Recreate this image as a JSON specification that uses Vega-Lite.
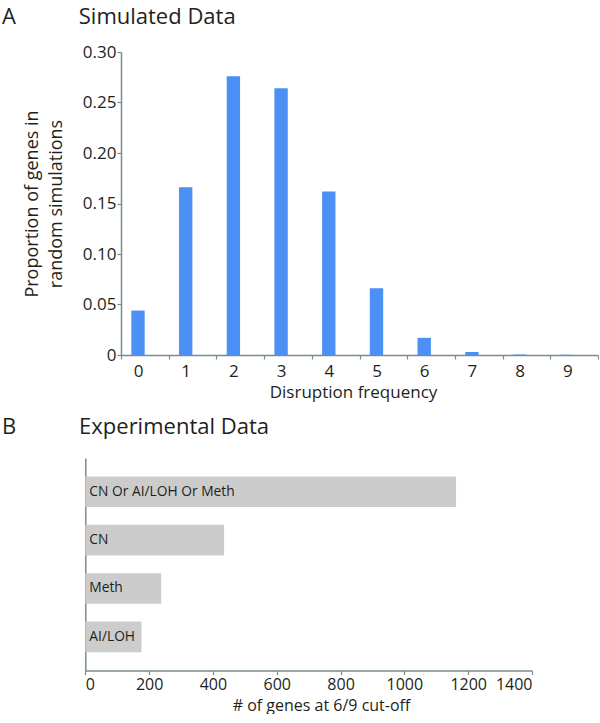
{
  "$schema": "https://vega.github.io/schema/vega-lite/v6.json",
  "padding": {"left": 2, "top": 6, "right": 0, "bottom": 0},
  "spacing": 16,
  "config": {
    "view": {"stroke": null},
    "font": "Open Sans",
    "axis": {
      "domainColor": "#7a8b8b",
      "tickColor": "#7a8b8b",
      "domainWidth": 1.5,
      "tickWidth": 1.2,
      "tickSize": 4,
      "labelFont": "Open Sans",
      "labelFontSize": 17,
      "labelColor": "#231f20",
      "titleFont": "Open Sans",
      "titleFontSize": 17,
      "titleFontWeight": "normal",
      "titleColor": "#231f20",
      "grid": false
    },
    "title": {
      "font": "Open Sans",
      "fontSize": 22,
      "fontWeight": "normal",
      "color": "#231f20",
      "anchor": "start",
      "frame": "group"
    }
  },
  "vconcat": [
    {
      "title": {"text": "A\u00a0\u00a0\u00a0\u00a0\u00a0\u00a0\u00a0\u00a0\u00a0\u00a0\u00a0Simulated Data", "dx": -119, "offset": 14},
      "width": 477,
      "height": 303,
      "data": {
        "values": [
          {"freq": "0", "prop": 0.044},
          {"freq": "1", "prop": 0.166},
          {"freq": "2", "prop": 0.276},
          {"freq": "3", "prop": 0.264},
          {"freq": "4", "prop": 0.162},
          {"freq": "5", "prop": 0.066},
          {"freq": "6", "prop": 0.017},
          {"freq": "7", "prop": 0.003},
          {"freq": "8", "prop": 0.0005},
          {"freq": "9", "prop": 0.0002}
        ]
      },
      "mark": {"type": "bar", "color": "#4d90f5", "width": {"band": 0.28}, "xOffset": -6.85},
      "encoding": {
        "x": {
          "field": "freq",
          "type": "ordinal",
          "sort": null,
          "scale": {"paddingInner": 0, "paddingOuter": 0},
          "axis": {
            "title": "Disruption frequency",
            "labelAngle": 0,
            "tickBand": "extent",
            "labelOffset": -6.85,
            "labelPadding": 4,
            "titlePadding": 5,
            "titleX": 232
          }
        },
        "y": {
          "field": "prop",
          "type": "quantitative",
          "scale": {"domain": [0, 0.3], "nice": false},
          "axis": {
            "title": ["Proportion of genes in", "random simulations"],
            "values": [0, 0.05, 0.1, 0.15, 0.2, 0.25, 0.3],
            "labelExpr": "datum.value === 0 ? '0' : format(datum.value, '.2f')",
            "labelPadding": 1,
            "titlePadding": 17,
            "titleFontSize": 18,
            "titleLineHeight": 24
          }
        }
      }
    },
    {
      "title": {"text": "B\u00a0\u00a0\u00a0\u00a0\u00a0\u00a0\u00a0\u00a0\u00a0\u00a0\u00a0Experimental Data", "dx": -119, "offset": 19},
      "width": 411,
      "height": 212.6,
      "data": {
        "values": [
          {"group": "CN Or AI/LOH Or Meth", "genes": 1162},
          {"group": "CN", "genes": 435},
          {"group": "Meth", "genes": 238},
          {"group": "AI/LOH", "genes": 176}
        ]
      },
      "encoding": {
        "y": {
          "field": "group",
          "type": "nominal",
          "sort": null,
          "scale": {"paddingInner": 0.366, "paddingOuter": 0.38},
          "axis": {"title": null, "labels": false, "ticks": false, "offset": 35.7}
        }
      },
      "layer": [
        {
          "mark": {"type": "bar", "color": "#cccccc"},
          "encoding": {
            "x": {
              "field": "genes",
              "type": "quantitative",
              "scale": {"domain": [0, 1400], "nice": false, "range": [-35.7, 411]},
              "axis": {
                "title": "# of genes at 6/9 cut-off",
                "values": [0, 200, 400, 600, 800, 1000, 1200, 1400],
                "format": "d",
                "labelFontSize": 16,
                "labelPadding": 2,
                "titlePadding": 5,
                "titleFontSize": 16,
                "titleX": 200
              }
            }
          }
        },
        {
          "mark": {"type": "text", "align": "left", "baseline": "middle", "dx": 4, "fontSize": 13.8, "color": "#231f20", "font": "Open Sans"},
          "encoding": {
            "x": {"datum": 0},
            "text": {"field": "group"}
          }
        }
      ]
    }
  ]
}
